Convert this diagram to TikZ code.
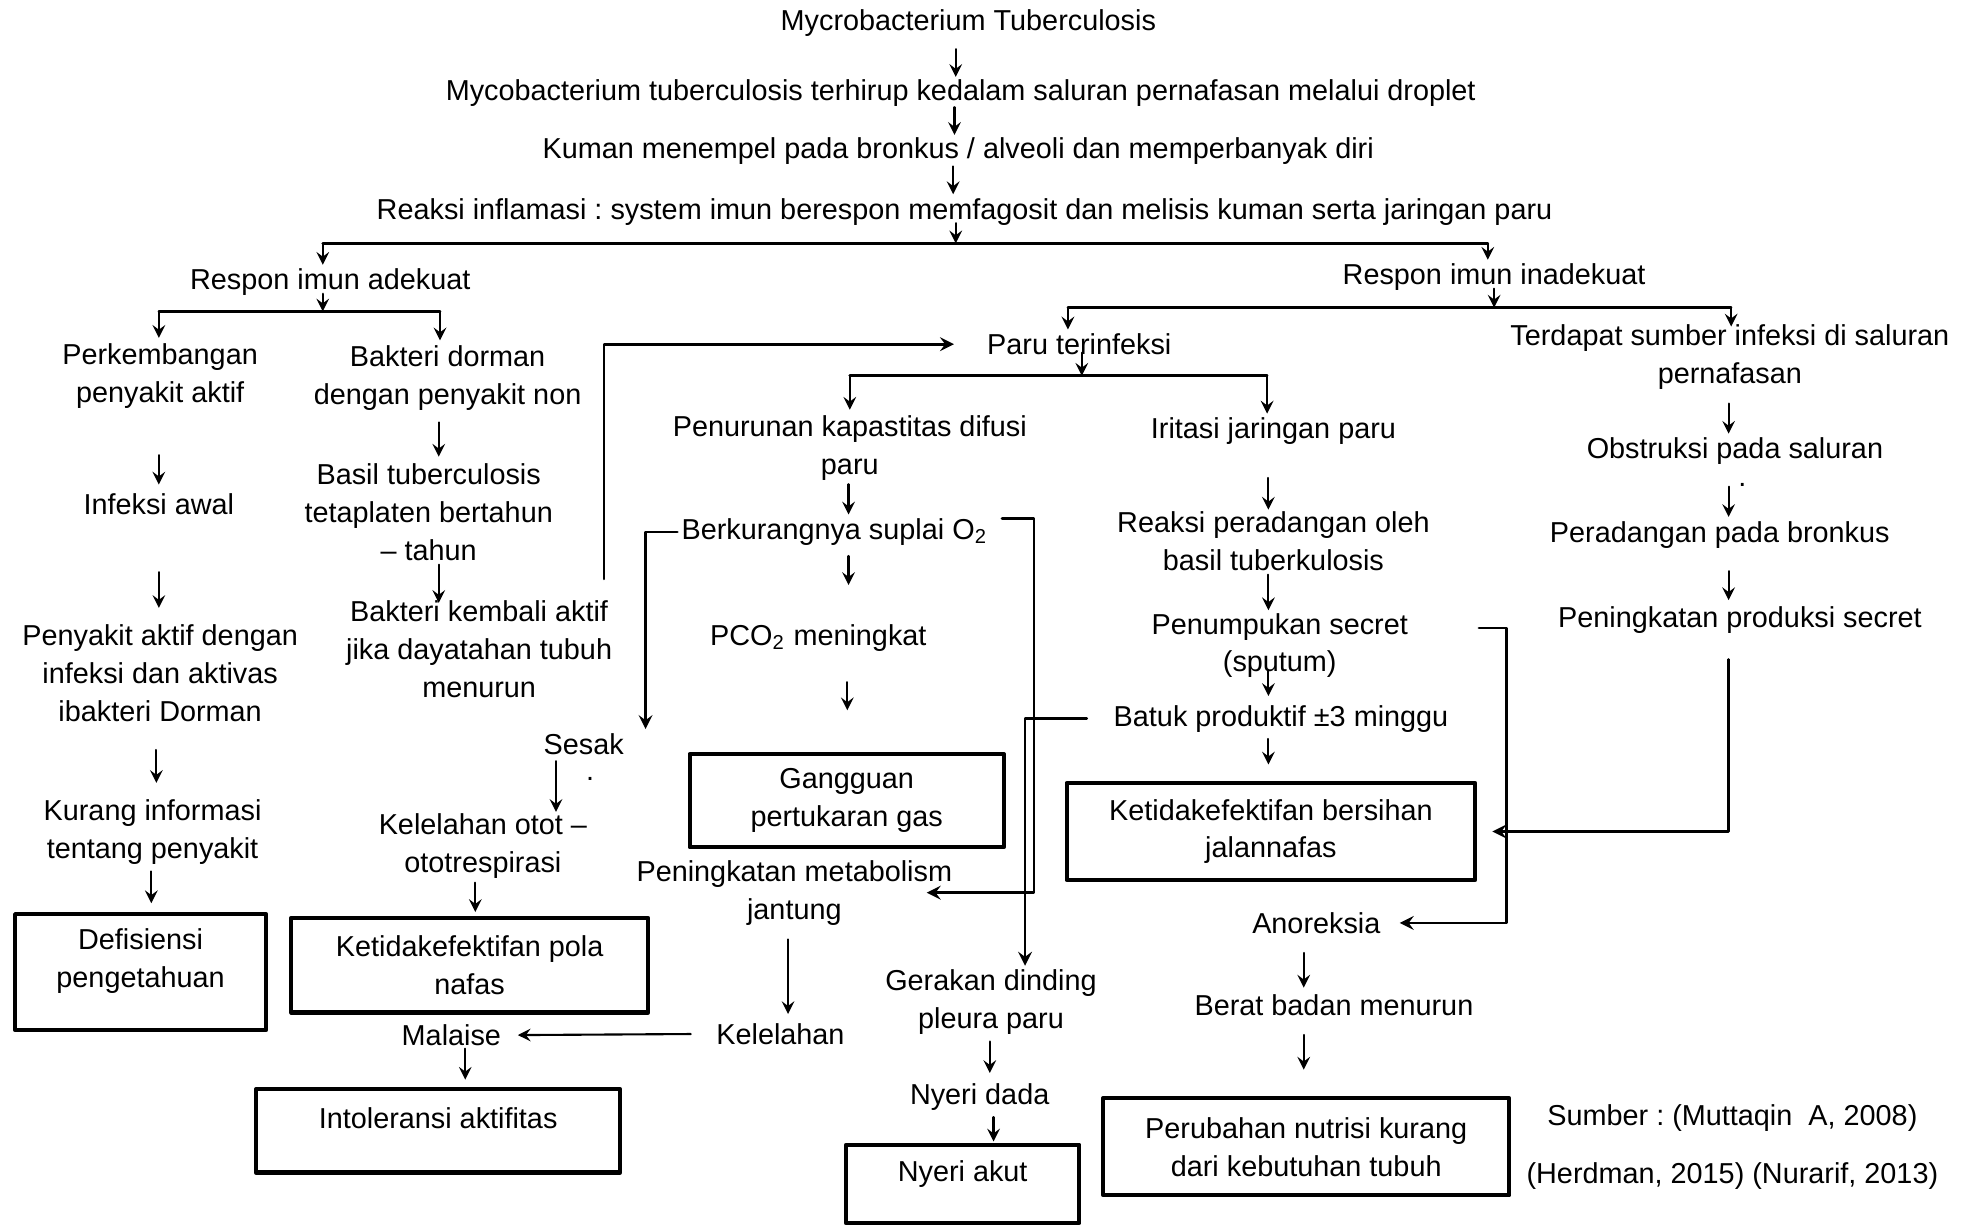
\documentclass[tikz,border=0pt]{standalone}
\usepackage{fontspec}
\setmainfont{Liberation Sans}
\usetikzlibrary{positioning}
\newcommand{\upx}{0.1261mm}
\frenchspacing
\begin{document}
\begin{tikzpicture}[x=\upx, y=-\upx, >=stealth, line join=round, line cap=round,
  font=\fontsize{8.2}{10.8}\selectfont,
  txt/.style={align=center, inner sep=1pt},
  kotak/.style={draw, line width=1.2pt, align=center, inner sep=1pt},
  arr/.style={->, line width=0.6pt},
  garis/.style={line width=0.75pt}]
\useasboundingbox (0,0) rectangle (1568,973);
% alur utama
\node[txt] (myco) at (768,18) {Mycrobacterium Tuberculosis};
\node[txt] (hirup) at (762,74) {Mycobacterium tuberculosis terhirup kedalam saluran pernafasan melalui droplet};
\node[txt] (kuman) at (760,120) {Kuman menempel pada bronkus / alveoli dan memperbanyak diri};
\node[txt] (reaksi) at (765,168) {Reaksi inflamasi : system imun berespon memfagosit dan melisis kuman serta jaringan paru};
\node[txt] (adekuat) at (262,224) {Respon imun adekuat};
\node[txt] (inadekuat) at (1185,220) {Respon imun inadekuat};
% respon imun adekuat
\node[txt] (perk) at (127,298) {Perkembangan\\penyakit aktif};
\node[txt] (infeksi) at (126,400) {Infeksi awal};
\node[txt] (penyakit) at (127,534) {Penyakit aktif dengan\\infeksi dan aktivas\\ibakteri Dorman};
\node[txt] (kurang) at (121,660) {Kurang informasi\\tentang penyakit};
\node[kotak, minimum width=199*\upx, minimum height=92*\upx] (defisiensi) at (111.5,771) {Defisiensi\\pengetahuan\\[-3pt]\mbox{}};
\node[txt] (dorman) at (355,300) {Bakteri dorman\\dengan penyakit non};
\node[txt] (basil) at (340,406) {Basil tuberculosis\\tetaplaten bertahun\\– tahun};
\node[txt] (kembali) at (380,515) {Bakteri kembali aktif\\jika dayatahan tubuh\\menurun};
\node[txt] (sesak) at (463,590) {Sesak};
\node[txt] (dotA) at (468,618) {.};
\node[txt] (kelotot) at (383,671) {Kelelahan otot –\\ototrespirasi};
\node[kotak, minimum width=283*\upx, minimum height=75*\upx] (pola) at (372.5,765.5) {Ketidakefektifan pola\\nafas};
\node[txt] (malaise) at (358,821) {Malaise};
\node[kotak, minimum width=289*\upx, minimum height=66*\upx] (intoleransi) at (347.5,897) {Intoleransi aktifitas\\[-3.6pt]\mbox{}};
% paru terinfeksi
\node[txt] (paru) at (856,273) {Paru terinfeksi};
\node[txt] (penurunan) at (674,355) {Penurunan kapastitas difusi\\paru};
\node[txt] (berkurang) at (662,422) {Berkurangnya suplai O\textsubscript{2}};
\node[txt] (pco) at (649,506) {PCO\textsubscript{2} meningkat};
\node[kotak, minimum width=249*\upx, minimum height=74*\upx] (gangguan) at (671.5,635) {Gangguan\\pertukaran gas};
\node[txt] (metab) at (630,708) {Peningkatan metabolism\\jantung};
\node[txt] (kelelahan) at (619,820) {Kelelahan};
\node[txt] (gerakan) at (786,795) {Gerakan dinding\\pleura paru};
\node[txt] (nyeridada) at (777,870) {Nyeri dada};
\node[kotak, minimum width=185*\upx, minimum height=62*\upx] (nyeriakut) at (763.5,939) {Nyeri akut\\[-3.3pt]\mbox{}};
\node[txt] (iritasi) at (1010,342) {Iritasi jaringan paru};
\node[txt] (reaksiper) at (1010,429) {Reaksi peradangan oleh\\basil tuberkulosis};
\node[txt] (penumpukan) at (1015,512) {Penumpukan secret\\(sputum)};
\node[txt] (batuk) at (1016,570) {Batuk produktif ±3 minggu};
\node[kotak, minimum width=324*\upx, minimum height=77*\upx] (bersihan) at (1008,659.5) {Ketidakefektifan bersihan\\jalannafas};
\node[txt] (anoreksia) at (1044,732) {Anoreksia};
\node[txt] (berat) at (1058,797) {Berat badan menurun};
\node[kotak, minimum width=322*\upx, minimum height=77*\upx] (nutrisi) at (1036,909.5) {Perubahan nutrisi kurang\\dari kebutuhan tubuh};
% sumber infeksi di saluran
\node[txt] (terdapat) at (1372,283) {Terdapat sumber infeksi di saluran\\pernafasan};
\node[txt] (obstruksi) at (1376,358) {Obstruksi pada saluran};
\node[txt] (dotB) at (1382,385) {.};
\node[txt] (bronkus) at (1364,424) {Peradangan pada bronkus};
\node[txt] (produksi) at (1380,492) {Peningkatan produksi secret};
\node[txt] (sumber) at (1374,887) {Sumber : (Muttaqin\ \ A, 2008)};
\node[txt] (pustaka) at (1374,933) {(Herdman, 2015) (Nurarif, 2013)};
% titik cabang
\coordinate (rbar) at (758,193); \coordinate (rbarL) at (256,193); \coordinate (rbarR) at (1180,193);
\coordinate (abar) at (256,247); \coordinate (abarL) at (126,247); \coordinate (abarR) at (349,247);
\coordinate (ibar) at (1185,244); \coordinate (ibarL) at (847,244); \coordinate (ibarR) at (1373,244);
\coordinate (pbar) at (858,298); \coordinate (pbarL) at (674,298); \coordinate (pbarR) at (1005,298);
\coordinate (bk) at (820,411);
\coordinate (sp) at (1195,498);
% cabang
\foreach \n/\p/\l/\r/\pl/\pr/\el/\er in {rbar/reaksi/rbarL/rbarR/adekuat/inadekuat/0/0,
  abar/adekuat/abarL/abarR/perk/dorman/1/1, ibar/inadekuat/ibarL/ibarR/paru/terdapat/0/-5,
  pbar/paru/pbarL/pbarR/penurunan/iritasi/1/0}
{\draw[arr, shorten <=-5*\upx] (\p.south -| \n) -- (\n);
 \draw[garis] (\l) -- (\r);
 \draw[arr, shorten >=\el*\upx] (\l) -- (\pl.north -| \l);
 \draw[arr, shorten >=\er*\upx] (\r) -- (\pr.north -| \r);}
% panah lurus
\foreach \a/\b/\x/\s/\e in {myco/hirup/758/7/-1, hirup/kuman/757/-3/-1, kuman/reaksi/756/-2/0,
  perk/infeksi/126/34/4, infeksi/penyakit/126/42/10, penyakit/kurang/124/19/10, kurang/defisiensi/120/2/7,
  dorman/basil/348/6/2, basil/kembali/348/0/-5, sesak/kelotot/441/2/-2, kelotot/pola/377/0/3,
  malaise/intoleransi/369/-1/6, penurunan/berkurang/673/0/0, berkurang/pco/673/5/28,
  pco/gangguan/672/21/33, metab/kelelahan/625/8/4, gerakan/nyeridada/785/2/5, nyeridada/nyeriakut/788/2/1,
  iritasi/reaksiper/1006/23/-2, reaksiper/penumpukan/1006/0/-1, penumpukan/batuk/1006/-10/4,
  batuk/bersihan/1006/2/13, terdapat/obstruksi/1371/8/0, obstruksi/bronkus/1371/14/0,
  bronkus/produksi/1371/15/2, anoreksia/berat/1034/12/2, berat/nutrisi/1034/12/21}
  \draw[arr, shorten <=\s*\upx, shorten >=\e*\upx] (\a.south -| \x,0) -- (\b.north -| \x,0);
% panah siku
\draw[arr, garis, shorten <=14*\upx, shorten >=23*\upx] (kembali.north -| 479,0) |- (paru.west);
\draw[arr, garis] (berkurang.west) -| (sesak.north -| 512,0);
\draw[arr, garis, shorten <=8*\upx] (berkurang.north east |- bk) -- (bk) |- (metab.east -| 735,0);
\draw[arr, garis, shorten <=18*\upx] (batuk.west) -| (gerakan.north -| 813,0);
\draw[arr, shorten <=17*\upx, shorten >=10*\upx] (kelelahan.west) -- (malaise.east);
\draw[arr, garis, shorten <=53*\upx, shorten >=12*\upx] (penumpukan.east |- sp) -- (sp) |- (anoreksia.east);
\draw[arr, garis, shorten <=17*\upx, shorten >=12*\upx] (produksi.south -| 1371,0) |- (bersihan.east);
\end{tikzpicture}
\end{document}
